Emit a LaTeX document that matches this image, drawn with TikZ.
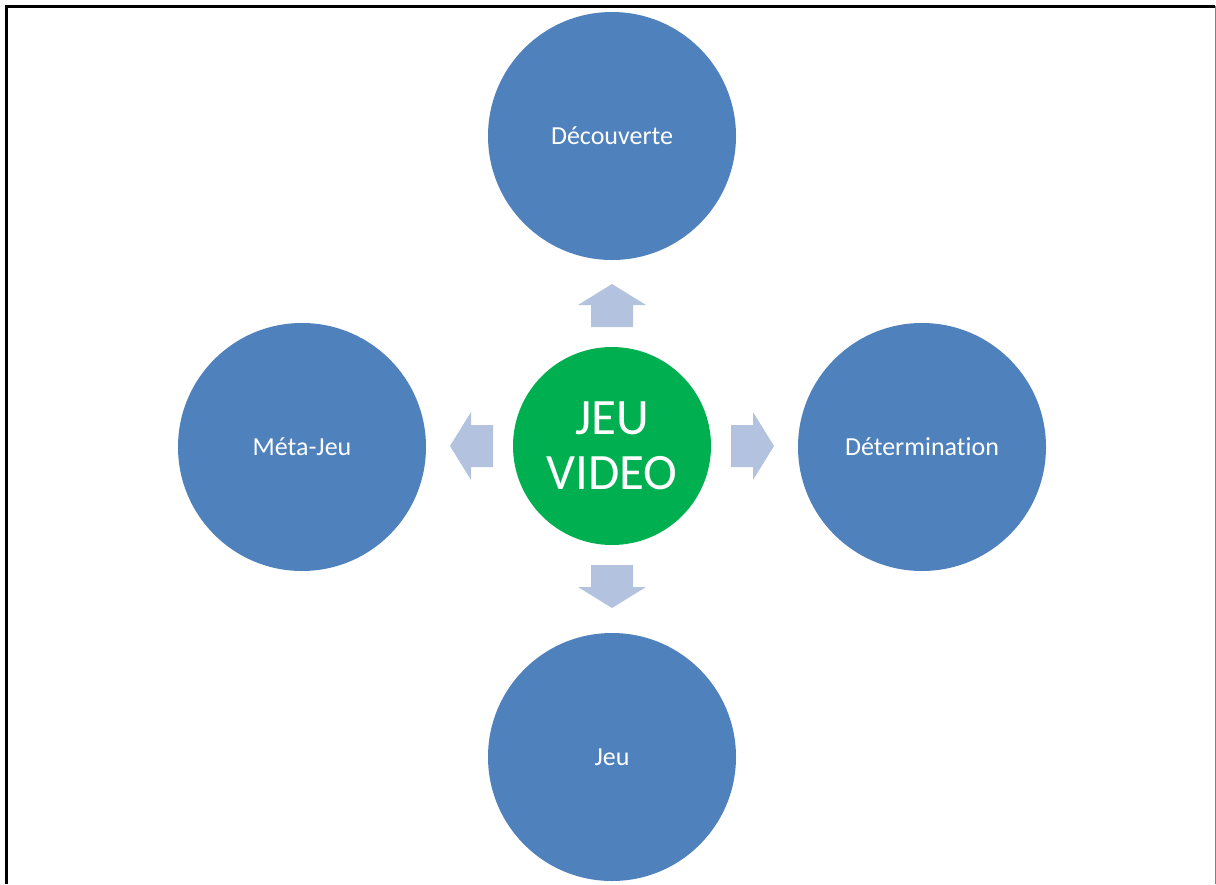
\documentclass[tikz,border=0pt]{standalone}
\usepackage{fontspec}
\setmainfont[Ligatures={NoCommon}]{Carlito}
\definecolor{cblue}{RGB}{79,129,189}
\definecolor{cgreen}{RGB}{0,176,80}
\definecolor{carrow}{RGB}{179,194,222}
\begin{document}
\begin{tikzpicture}[x=1pt,y=-1pt,
  outer/.style={circle,fill=cblue,minimum size=248pt,inner sep=0pt,text=white,font=\fontsize{26}{30}\selectfont},
  hub/.style={circle,fill=cgreen,minimum size=198pt,inner sep=0pt,text=white,align=center,font=\fontsize{51}{55}\selectfont},
  blockarrow/.style={fill=carrow}]
\useasboundingbox (0,0) rectangle (1216,884);
\fill[white] (0,0) rectangle (1216,884);
\draw[line width=3pt] (6.5,884) -- (6.5,6) -- (1215,6);
\draw[gray,line width=1pt] (1215,6) -- (1215,884);
\node[hub] (c) at (612,446) {JEU\\VIDEO};
\node[outer] (top) at (612,136) {Découverte};
\node[outer] (left) at (302,447) {Méta-Jeu};
\node[outer] (right) at (922,447) {Détermination};
\node[outer] (bot) at (612,757) {Jeu};
\foreach \a in {0,90,180,270}{
  \fill[blockarrow,shift={(c.center)},rotate=\a]
    (119,-21) -- (141,-21) -- (141,-34) -- (162,0) -- (141,34) -- (141,21) -- (119,21) -- cycle;
}
\end{tikzpicture}
\end{document}
